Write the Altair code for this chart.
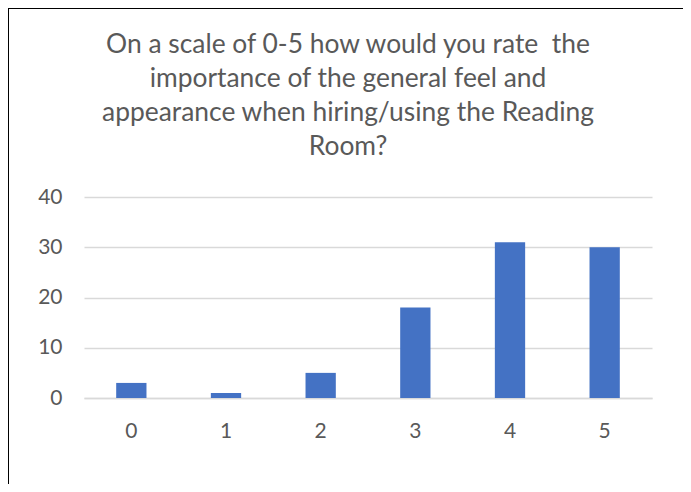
import altair as alt
import pandas as pd

categories = ["0", "1", "2", "3", "4", "5"]
counts = [3, 1, 5, 18, 31, 30]
title_lines = [
    "On a scale of 0-5 how would you rate\u00a0 the",
    "importance of the general feel and",
    "appearance when hiring/using the Reading",
    "Room?",
]

df = pd.DataFrame({"rating": categories, "count": counts})

FONT = "Lato"
GRAY = "#595959"

bars = alt.Chart(df).mark_bar(color="#4472C4").encode(
    x=alt.X(
        "rating:N",
        sort=categories,
        scale=alt.Scale(paddingInner=0.68, paddingOuter=0.34),
        axis=alt.Axis(
            title=None, labelAngle=0, ticks=False, domain=True,
            domainColor="#D9D9D9", domainWidth=1.5, labelPadding=22,
            labelFont=FONT, labelFontSize=21, labelColor=GRAY,
        ),
    ),
    y=alt.Y(
        "count:Q",
        scale=alt.Scale(domain=[0, 40]),
        axis=alt.Axis(
            title=None, values=[0, 10, 20, 30, 40], ticks=False, domain=False,
            gridColor="#D9D9D9", gridWidth=1.5, labelPadding=22,
            labelFont=FONT, labelFontSize=21, labelColor=GRAY,
        ),
    ),
)

frame = alt.Chart(pd.DataFrame({"a": [0]})).mark_rect(
    fill=None, stroke="black", strokeWidth=2, clip=False
).encode(
    x=alt.value(-76), x2=alt.value(604), y=alt.value(-189), y2=alt.value(320)
)

title = alt.Chart(pd.DataFrame({"a": [0]})).mark_text(
    text=title_lines, font=FONT, fontSize=26.4, color=GRAY, lineHeight=34,
    align="center", baseline="top",
).encode(x=alt.value(264), y=alt.value(-165))

chart = alt.layer(frame, title, bars).properties(
    width=568,
    height=201,
    autosize=alt.AutoSizeParams(type="none"),
    padding={"left": 76, "top": 189, "right": 31, "bottom": 86},
).configure(
    background="white", view=alt.ViewConfig(stroke=None, strokeWidth=0)
)

chart.save("out.html", embed_options={"renderer": "svg", "actions": False})
